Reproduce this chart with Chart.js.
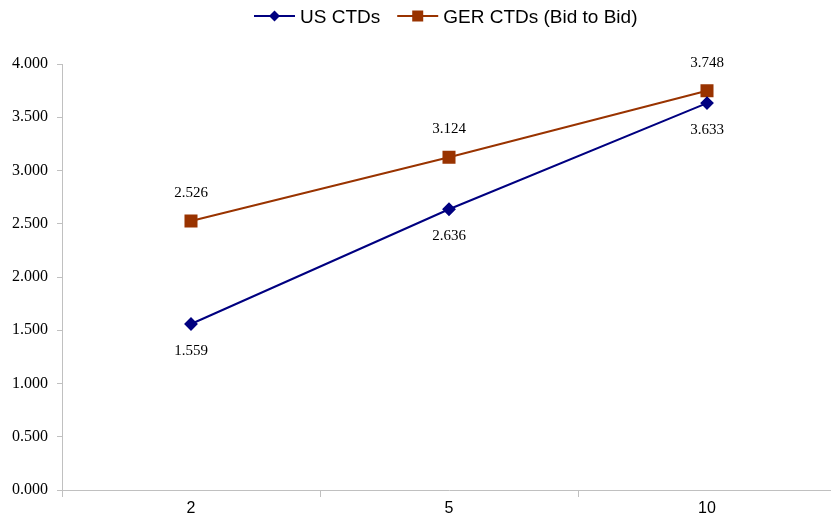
<!DOCTYPE html>
<html>
<head>
<meta charset="utf-8">
<script src="https://cdn.jsdelivr.net/npm/chart.js@4"></script>
<style>
  html, body { margin: 0; padding: 0; background: #fff; overflow: hidden; }
  #wrap { width: 836px; height: 530px; }
</style>
</head>
<body>
<div id="wrap"><canvas id="chart"></canvas></div>
<script>
const maturities = ['2', '5', '10'];
const usCtds = [1.559, 2.636, 3.633];
const gerCtds = [2.526, 3.124, 3.748];
const seriesNames = ['US CTDs', 'GER CTDs (Bid to Bid)'];

const usColor = '#000080';
const gerColor = '#993300';

// legend drawn by hand: line with marker, then the name
const lineLegend = {
    id: 'lineLegend',
    afterDraw(chart) {
        const ctx = chart.ctx;
        const y = 16;
        let x = 254;
        ctx.save();
        ctx.font = '19px "Liberation Sans", Arial, sans-serif';
        ctx.textBaseline = 'middle';
        chart.data.datasets.forEach((ds, i) => {
            ctx.strokeStyle = ds.borderColor;
            ctx.fillStyle = ds.borderColor;
            ctx.lineWidth = 2;
            ctx.beginPath(); ctx.moveTo(x, y); ctx.lineTo(x + 41, y); ctx.stroke();
            ctx.beginPath();
            if (i === 0) {
                ctx.moveTo(x + 20.5, y - 5.5); ctx.lineTo(x + 26, y);
                ctx.lineTo(x + 20.5, y + 5.5); ctx.lineTo(x + 15, y);
            } else {
                ctx.rect(x + 15, y - 5.5, 11, 11);
            }
            ctx.fill();
            ctx.fillStyle = '#000';
            ctx.fillText(ds.label, x + 46, y + 2);
            x += 46 + ctx.measureText(ds.label).width + 17;
        });
        ctx.restore();
    }
};

const valueLabels = {
    id: 'valueLabels',
    afterDatasetsDraw(chart) {
        const ctx = chart.ctx;
        ctx.save();
        ctx.font = '15px "Liberation Serif", serif';
        ctx.fillStyle = '#000';
        ctx.textAlign = 'center';
        ctx.textBaseline = 'middle';
        chart.data.datasets.forEach((ds, i) => {
            const meta = chart.getDatasetMeta(i);
            const dy = i === 0 ? 27 : -28;
            meta.data.forEach((pt, j) => {
                ctx.fillText(ds.data[j].toFixed(3), pt.x, pt.y + dy);
            });
        });
        ctx.restore();
    }
};

new Chart(document.getElementById('chart'), {
    type: 'line',
    data: {
        labels: maturities,
        datasets: [
            {
                label: seriesNames[0],
                data: usCtds,
                borderColor: usColor,
                backgroundColor: usColor,
                borderWidth: 2,
                pointStyle: 'rectRot',
                pointRadius: 5.5,
                pointHoverRadius: 5.5,
                tension: 0
            },
            {
                label: seriesNames[1],
                data: gerCtds,
                borderColor: gerColor,
                backgroundColor: gerColor,
                borderWidth: 2,
                pointStyle: 'rect',
                pointRadius: 7.8,
                pointHoverRadius: 7.8,
                tension: 0
            }
        ]
    },
    options: {
        responsive: true,
        maintainAspectRatio: false,
        animation: false,
        layout: { autoPadding: false, padding: { top: 64, right: 0, bottom: 0, left: 0 } },
        scales: {
            x: {
                offset: true,
                grid: { offset: true, drawOnChartArea: false, tickLength: 7, color: '#c0c0c0' },
                border: { color: '#c0c0c0', width: 1 },
                ticks: { color: '#000', font: { family: '"Liberation Sans", Arial, sans-serif', size: 16 }, padding: 2 },
                afterFit(scale) { scale.height = 40; }
            },
            y: {
                min: 0,
                max: 4,
                ticks: {
                    stepSize: 0.5,
                    color: '#000',
                    font: { family: '"Liberation Serif", serif', size: 16 },
                    padding: 9,
                    callback: v => v.toFixed(3)
                },
                grid: { drawOnChartArea: false, tickLength: 5, color: '#c0c0c0' },
                border: { color: '#c0c0c0', width: 1 },
                afterFit(scale) { scale.width = 62; }
            }
        },
        plugins: {
            tooltip: { enabled: false },
            legend: { display: false }
        }
    },
    plugins: [valueLabels, lineLegend]
});
</script>
</body>
</html>
